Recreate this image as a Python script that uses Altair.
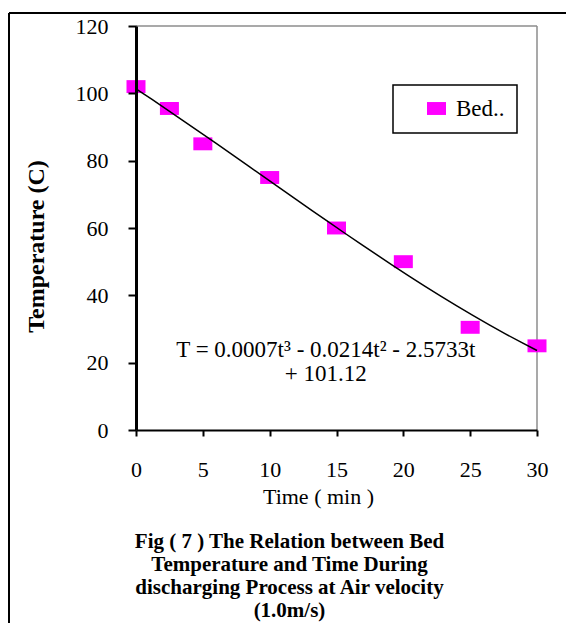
import altair as alt
import pandas as pd

# ---- data ----
time_min = [0, 2.5, 5, 10, 15, 20, 25, 30]
bed_temp = [102, 95.5, 85, 75, 60, 50, 30.5, 25]
series_name = "Bed.."
x_ticks = [0, 5, 10, 15, 20, 25, 30]
y_ticks = [0, 20, 40, 60, 80, 100, 120]
equation = "T = 0.0007t³ - 0.0214t² - 2.5733t\n+ 101.12"
caption = [
    "Fig ( 7 ) The Relation between Bed",
    "Temperature and Time During",
    "discharging Process at Air velocity",
    "(1.0m/s)",
]
x_title = "Time ( min )"
y_title = "Temperature (C)"

df = pd.DataFrame({"t": time_min, "T": bed_temp, "series": [series_name] * len(time_min)})
one_row = pd.DataFrame({"label": [equation]})

SERIF = "Liberation Serif"
SQUARE = "M-1,-0.68L1,-0.68L1,0.68L-1,0.68Z"
MAGENTA = "#FF00FF"
W, H = 401, 404

x_enc = alt.X(
    "t:Q",
    scale=alt.Scale(domain=[0, 30], nice=False),
    axis=alt.Axis(
        values=x_ticks, title=x_title, grid=False, zindex=1,
        domainColor="black", domainWidth=2,
        tickColor="black", tickWidth=2, tickSize=6,
        labelFont=SERIF, labelFontSize=22, labelColor="black",
        labelBaseline="middle", labelPadding=33, labelFlush=False,
        titleFont=SERIF, titleFontSize=22, titleFontWeight="normal", titleColor="black",
        titleX=182, titleY=73, titleBaseline="alphabetic", titleAlign="center",
    ),
)
y_enc = alt.Y(
    "T:Q",
    scale=alt.Scale(domain=[0, 120], nice=False),
    axis=alt.Axis(
        values=y_ticks, title=y_title, grid=False, zindex=1,
        domainColor="black", domainWidth=3,
        tickColor="black", tickWidth=2, tickSize=8,
        labelFont=SERIF, labelFontSize=22, labelColor="black",
        labelBaseline="middle", labelPadding=20, labelFlush=False,
        titleFont=SERIF, titleFontSize=24, titleFontWeight="bold", titleColor="black",
        titleAngle=270, titleX=-93, titleY=220, titleBaseline="alphabetic", titleAlign="center",
    ),
)

# outer figure frame (left and top edges)
frame_left = alt.Chart(one_row).mark_rule(color="black", strokeWidth=2).encode(
    x=alt.value(-127), y=alt.value(-13), y2=alt.value(600)
)
frame_top = alt.Chart(one_row).mark_rule(color="black", strokeWidth=2).encode(
    x=alt.value(-127), x2=alt.value(440), y=alt.value(-13)
)
# grey plot-area border (top and right)
border_top = alt.Chart(one_row).mark_rule(color="#8c8c8c", strokeWidth=1.5).encode(
    x=alt.value(0), x2=alt.value(W), y=alt.value(0)
)
border_right = alt.Chart(one_row).mark_rule(color="#8c8c8c", strokeWidth=1.5).encode(
    x=alt.value(W), y=alt.value(0), y2=alt.value(H)
)

points = alt.Chart(df).mark_point(
    filled=True, shape=SQUARE, size=361, opacity=1, strokeWidth=0
).encode(
    x=x_enc,
    y=y_enc,
    color=alt.Color(
        "series:N",
        scale=alt.Scale(domain=[series_name], range=[MAGENTA]),
        legend=alt.Legend(
            title=None, orient="none", legendX=257, legendY=59,
            symbolType=SQUARE, symbolSize=361, symbolOffset=20,
            symbolStrokeWidth=0, symbolOpacity=1,
            labelOffset=8, labelFont=SERIF, labelFontSize=23, labelColor="black",
            padding=12, strokeColor="black",
        ),
    ),
)

trend = alt.Chart(df).transform_regression(
    "t", "T", method="poly", order=3, extent=[0, 30]
).mark_line(color="black", strokeWidth=1.5).encode(x=x_enc, y=y_enc)

eq_text = alt.Chart(one_row).mark_text(
    font=SERIF, fontSize=23, color="black", align="center",
    baseline="alphabetic", lineBreak="\n", lineHeight=24,
).encode(x=alt.datum(14.2), y=alt.datum(21.8), text="label:N")

chart = alt.layer(
    frame_left, frame_top, border_top, border_right, points, trend, eq_text
).properties(
    width=W,
    height=H,
    autosize=alt.AutoSizeParams(type="none"),
    padding={"left": 128, "top": 18, "right": 29, "bottom": 193},
    title=alt.TitleParams(
        text=caption, orient="bottom", anchor="middle", frame="group",
        font=SERIF, fontSize=21, fontWeight="bold", color="black",
        lineHeight=23, offset=-96, dx=-47,
    ),
).configure_view(
    strokeWidth=0
).configure_legend(
    strokeWidth=1.5
)

chart.save("out.html", embed_options={"renderer": "svg", "actions": False})
